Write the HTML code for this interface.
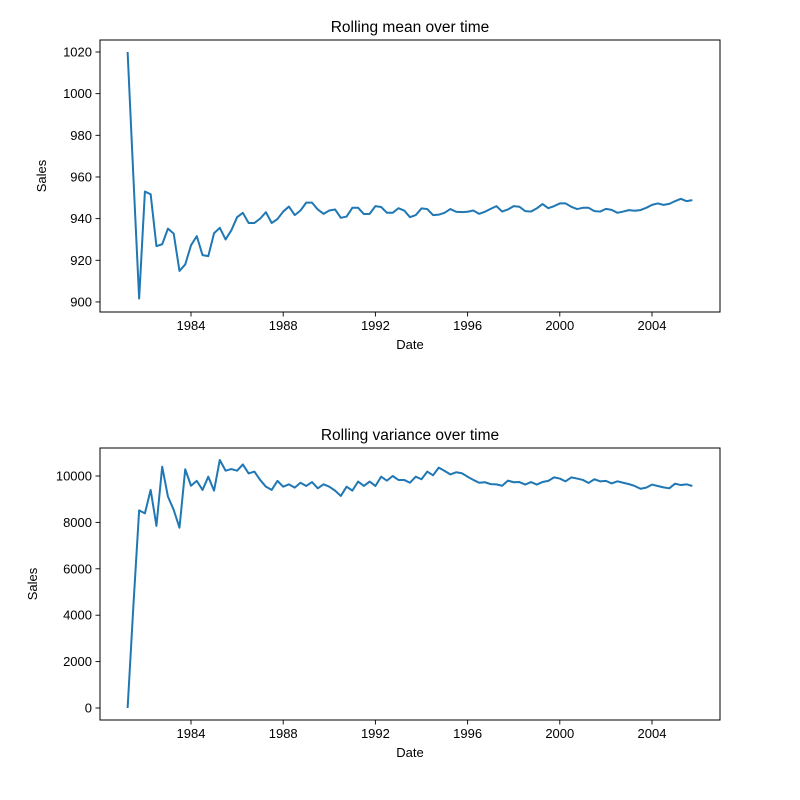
<!DOCTYPE html>
<html><head><meta charset="utf-8"><style>
body{margin:0;background:#fff}
svg{display:block;font-family:"Liberation Sans","DejaVu Sans",sans-serif}
</style></head><body>
<svg id="fig" width="800" height="800" viewBox="0 0 800 800"></svg>
<script>
const meanValues=[1020,960,901.6,953,951.7,926.8,927.7,935.2,932.8,914.9,918,927.2,931.6,922.5,922,933,935.6,930,934.4,940.7,942.8,937.9,937.9,940,943.1,937.9,939.8,943.4,945.8,941.7,943.9,947.7,947.7,944.4,942.3,943.9,944.4,940.4,941,945.2,945.2,942.2,942.3,946,945.6,942.8,942.8,945,943.9,940.7,941.7,944.9,944.6,941.7,941.9,942.8,944.6,943.3,943.1,943.3,943.9,942.3,943.3,944.7,946,943.4,944.4,946,945.7,943.6,943.4,944.9,947,945,946,947.3,947.3,945.7,944.6,945.2,945.2,943.6,943.4,944.7,944.2,942.8,943.4,944.1,943.8,944.1,945.2,946.6,947.3,946.6,947.1,948.4,949.5,948.4,948.9];
const varValues=[0,4400,8520,8390,9400,7850,10400,9110,8540,7770,10290,9580,9790,9400,9970,9370,10690,10230,10300,10230,10500,10110,10190,9830,9540,9400,9790,9540,9640,9500,9710,9570,9740,9470,9640,9540,9370,9140,9540,9370,9760,9570,9760,9570,9970,9800,10000,9830,9830,9710,9970,9860,10190,10030,10360,10220,10070,10160,10120,9970,9830,9710,9730,9650,9640,9580,9800,9730,9740,9630,9740,9630,9740,9790,9940,9890,9770,9940,9890,9830,9700,9860,9770,9790,9680,9770,9710,9650,9570,9450,9500,9630,9570,9510,9470,9670,9610,9640,9570];
const startYear=1981.25;
const xTicks=[1984,1988,1992,1996,2000,2004];
const meanTicks=[900,920,940,960,980,1000,1020];
const varTicks=[0,2000,4000,6000,8000,10000];

const NS="http://www.w3.org/2000/svg";
const svg=document.getElementById('fig');
function el(t,a,p){const e=document.createElementNS(NS,t);for(const k in a)e.setAttribute(k,a[k]);(p||svg).appendChild(e);return e;}
function xScale(yr){return 191+(yr-1984)*23.05;}

function panel(key,top,bottom,vals,ticks,yFn,title){
  const g=el('g',{});
  
  
  const t=el('text',{x:410,y:top-8,'text-anchor':'middle','font-size':'15.5'},g);
  t.textContent=title;
  
  
  xTicks.forEach(v=>{
    const x=xScale(v);
    el('line',{x1:x,x2:x,y1:bottom,y2:bottom+4.5,stroke:'#000','stroke-width':0.9},g);
    const l=el('text',{x:x,y:bottom+18,'text-anchor':'middle','font-size':'13'},g);
    l.textContent=v;
    
    
  });
  ticks.forEach(v=>{
    const y=yFn(v);
    el('line',{x1:100,x2:95.5,y1:y,y2:y,stroke:'#000','stroke-width':0.9},g);
    const l=el('text',{x:92,y:y+4.5,'text-anchor':'end','font-size':'13'},g);
    l.textContent=v;
    
    
  });
  const xl=el('text',{x:410,y:bottom+37,'text-anchor':'middle','font-size':'13'},g);
  xl.textContent='Date';
  
  
  const yx=key==='mean'?46:37;
  const cy=(top+bottom)/2;
  const yl=el('text',{x:yx,y:cy,'text-anchor':'middle','font-size':'13',transform:`rotate(-90 ${yx} ${cy})`},g);
  yl.textContent='Sales';
  
  
  const pts=vals.map((v,i)=>xScale(startYear+i*0.25).toFixed(2)+','+yFn(v).toFixed(2)).join(' ');
  const pl=el('polyline',{points:pts,fill:'none',stroke:'#1f77b4','stroke-width':2,'stroke-linejoin':'round'},g);
  
  
  const fr=el('rect',{x:100,y:top,width:620,height:bottom-top,fill:'none',stroke:'#000','stroke-width':1},g);
  
  
}
panel('mean',40,312,meanValues,meanTicks,v=>52+(1020-v)*2.083,'Rolling mean over time');
panel('variance',448,720,varValues,varTicks,v=>708-v*0.0232,'Rolling variance over time');
</script>
</body></html>
